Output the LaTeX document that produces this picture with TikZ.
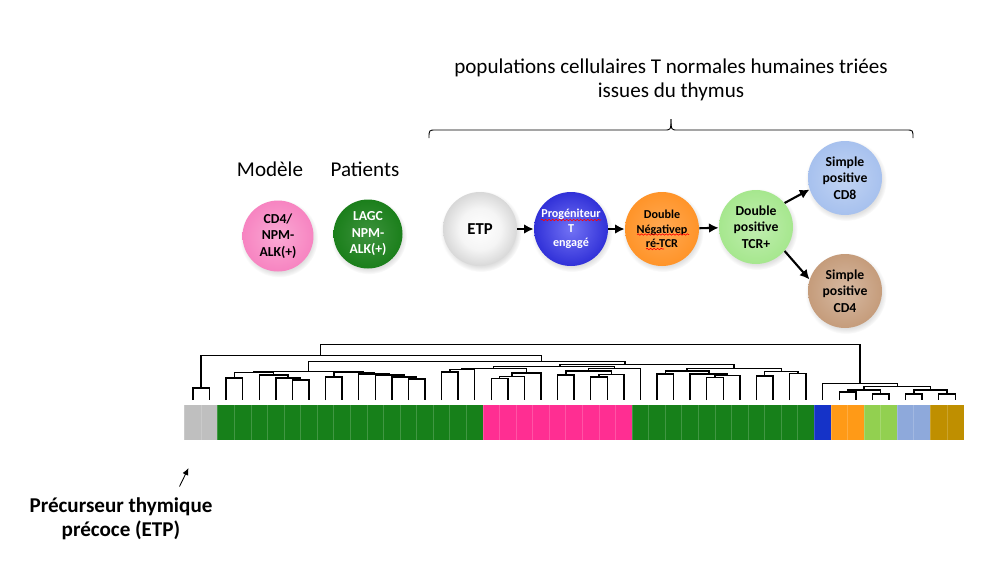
\documentclass[tikz,border=0pt]{standalone}
\usepackage{fontspec}
\setmainfont{Carlito}
\usetikzlibrary{arrows.meta,positioning,shadows,decorations.pathmorphing}

\definecolor{barGrey}{HTML}{BFBFBF}
\definecolor{barGreen}{HTML}{17801A}
\definecolor{barPink}{HTML}{FF2E92}
\definecolor{barBlue}{HTML}{1533C8}
\definecolor{barOrange}{HTML}{FF9A17}
\definecolor{barLime}{HTML}{92D050}
\definecolor{barSky}{HTML}{8EA9DB}
\definecolor{barGold}{HTML}{BF8F00}
\definecolor{cdPink}{HTML}{F784C1}
\definecolor{lagcGreen}{HTML}{1B7F1B}
\definecolor{progBlue}{HTML}{3636F0}
\definecolor{dnOrange}{HTML}{FF9429}
\definecolor{dpGreen}{HTML}{A6E78E}
\definecolor{spBlue}{HTML}{A7C1EE}
\definecolor{spBrown}{HTML}{C59C7B}

\pgfdeclareradialshading{etpball}{\pgfpoint{0bp}{0bp}}{color(0bp)=(white); color(14bp)=(white!92!gray); color(32bp)=(gray!45); color(50bp)=(gray!80)}

\begin{document}
\begin{tikzpicture}[x=0.02cm,y=-0.02cm,
  popnode/.style={circle,minimum size=1.48cm,inner sep=0pt,align=center,
    font=\bfseries\fontsize{7.8}{9.4}\selectfont,
    circular drop shadow={shadow xshift=0.5pt,shadow yshift=-1.2pt,opacity=0.25}},
  smalltxt/.style={font=\bfseries\fontsize{6.9}{8.2}\selectfont},
  flow/.style={-{Latex[length=5.5pt,width=5.5pt]},line width=1.2pt},
  dendro/.style={line width=0.8pt},
  squiggle/.style={red,line width=0.35pt,decorate,decoration={snake,amplitude=0.4pt,segment length=2pt}}]
\useasboundingbox (0,0) rectangle (999,569);

% title and brace
\node[align=center,font=\fontsize{12}{13.6}\selectfont] (title) at (671,80)
  {populations cellulaires T normales humaines triées\\issues du thymus};
\draw[line width=0.5pt] (429,138) .. controls (429,130) .. (436,130) -- (664,130) .. controls (671,130) .. (671,119);
\draw[line width=0.5pt] (671,119) .. controls (671,130) .. (678,130) -- (906,130) .. controls (913,130) .. (913,138);

% model and patients
\node[font=\fontsize{12}{13.6}\selectfont] (modlab) at (270,169) {Modèle};
\node[font=\fontsize{12}{13.6}\selectfont] (patlab) at (365,169) {Patients};
\node[popnode,minimum size=1.42cm,inner color=cdPink!70!white,outer color=cdPink] (mod) at (278,236) {CD4/\\NPM-\\ALK(+)};
\node[popnode,minimum size=1.38cm,inner color=lagcGreen!85!white,outer color=lagcGreen,text=white] (pat) at (368,234) {LAGC\\NPM-\\ALK(+)};

% sorted thymic populations
\node[popnode,shading=etpball,font=\bfseries\fontsize{9.5}{11}\selectfont] (etp) at (480,229) {ETP};
\node[popnode,smalltxt,inner color=progBlue!70!white,outer color=progBlue!90!black,text=white] (prog) at (571,229) {Progéniteur\\T\\engagé};
\node[popnode,smalltxt,inner color=dnOrange!80!white,outer color=dnOrange] (dn) at (662,229) {Double\\Négativep\\ré-TCR};
\node[popnode,inner color=dpGreen!70!white,outer color=dpGreen] (dp) at (756,227) {Double\\positive\\TCR+};
\node[popnode,inner color=spBlue!70!white,outer color=spBlue] (sp8) at (845,178) {Simple\\positive\\CD8};
\node[popnode,inner color=spBrown!70!white,outer color=spBrown] (sp4) at (845,291) {Simple\\positive\\CD4};
\draw[squiggle] (541,220) -- (601,220);
\draw[squiggle] (637,234.5) -- (689,234.5);
\draw[squiggle] (646,249) -- (664,249);

\draw[flow] (etp) -- (prog);
\draw[flow] (prog) -- (dn);
\draw[flow] (dn) -- (dp);
\draw[flow] (dp.40) -- (sp8.198);
\draw[flow] (dp.-40) -- (sp4.162);

% dendrogram
\foreach \xa/\ya/\xb/\yb/\h in {193/400/209.6/400/388, 226.1/400/242.7/400/378,
  292.4/400/309/400/380, 275.8/400/300.7/380/378, 259.3/400/288/378/375,
  234.4/378/273.6/375/372.5, 325.5/400/342.1/400/377, 408.4/400/425/400/379,
  391.8/400/416.7/379/377, 375.2/400/404.2/377/375, 358.7/400/389.7/375/374,
  333.8/377/374.2/374/372.5, 254/372.5/363/372.5/371.5,
  441.5/400/458.1/400/372, 449.8/372/474.7/400/369.5, 491.2/400/507.8/400/378.5,
  499.5/378.5/524.4/400/376.5, 512/376.5/540.9/400/373, 462/369.5/526.5/373/368.3,
  557.5/400/574.1/400/375, 590.7/400/607.2/400/377, 599/377/623.8/400/374.5,
  565.8/375/611.4/374.5/371, 588.6/371/640.4/400/368.5, 493.3/368.3/614.5/368.5/366.5,
  656.9/400/673.5/400/374, 706.7/400/723.2/400/377.5, 715/377.5/739.8/400/375.5,
  690.1/400/727.4/375.5/374, 665.2/374/708.8/374/371, 789.5/400/806.1/400/373.3,
  756.4/400/772.9/400/376, 764.7/376/797.8/373.3/371.5, 687/371/781.7/371.5/368.3,
  560/366.5/734/368.3/364.5, 308.3/371.5/625/364.5/361.7, 201/388/541.7/361.7/355.7,
  839.2/400/855.8/400/392, 872.4/400/888.9/400/394, 847.5/392/880.7/394/390,
  905.5/400/922.1/400/394, 938.6/400/955.2/400/394, 913.8/394/946.9/394/390,
  864.1/390/930.4/390/386.7, 822.6/400/897.3/386.7/383.3, 320.7/355.7/860/383.3/344.3}{
  \draw[dendro] (\xa,\ya) -- (\xa,\h) -- (\xb,\h) -- (\xb,\yb);
}

% sample bar
\foreach \a/\b/\c in {0/1/barGrey, 2/17/barGreen, 18/26/barPink, 27/37/barGreen, 38/38/barBlue,
  39/40/barOrange, 41/42/barLime, 43/44/barSky, 45/46/barGold}{
  \fill[\c] ({184.7+16.57*\a},405) rectangle ({184.7+16.57*(\b+1)},439.5);
  \foreach \i in {\a,...,\b}{
    \draw[\c!82!white,line width=0.4pt] ({184.7+16.57*\i},405) -- ({184.7+16.57*\i},439.5);
  }
}

% ETP label
\node[align=center,font=\bfseries\fontsize{12}{13.4}\selectfont] (etplab) at (121,519) {Précurseur thymique\\précoce (ETP)};
\coordinate (ptr) at (179.5,486.5);
\coordinate (etptip) at (188.5,468);
\draw[-{Latex[length=4pt,width=3.5pt]},line width=0.5pt] (ptr) -- (etptip);
\end{tikzpicture}
\end{document}
